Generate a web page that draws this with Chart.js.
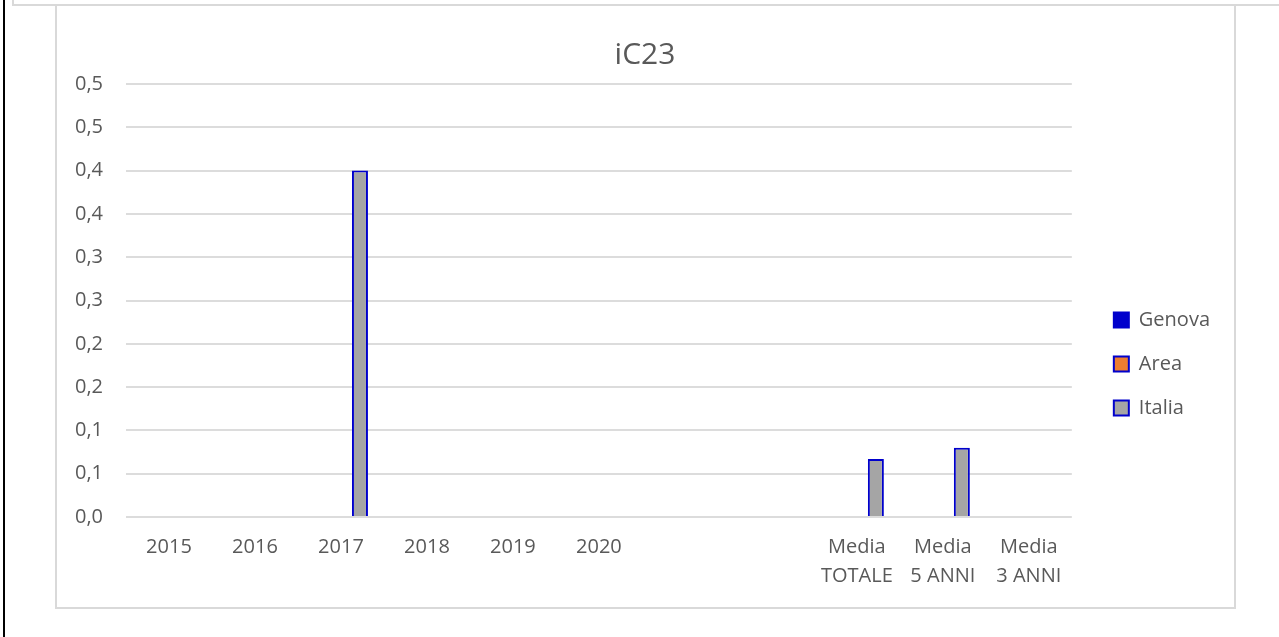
<!DOCTYPE html>
<html>
<head>
<meta charset="utf-8">
<script src="https://cdn.jsdelivr.net/npm/chart.js@4/dist/chart.umd.min.js"></script>
<style>
  html, body { margin: 0; padding: 0; background: #fff; }
  body { width: 1279px; height: 637px; position: relative; overflow: hidden; }
  .edge { position: absolute; left: 3px; top: 0; width: 2px; height: 637px; background: #000; }
  .prev { position: absolute; left: 12px; top: -20px; width: 1300px; height: 22px; border: 2px solid #d9d9d9; }
  .frame { position: absolute; left: 55px; top: 4px; width: 1181px; height: 605px; box-sizing: border-box; border: 2px solid #d9d9d9; }
  #wrap { position: absolute; left: 0; top: 0; width: 1279px; height: 637px; }
</style>
</head>
<body>
<div class="edge"></div>
<div class="prev"></div>
<div class="frame"></div>
<div id="wrap"><canvas id="chart"></canvas></div>
<script>
const CATEGORIES = ["2015", "2016", "2017", "2018", "2019", "2020", "", "", ["Media", "TOTALE"], ["Media", "5 ANNI"], ["Media", "3 ANNI"]];
const GENOVA = [null, null, null, null, null, null, null, null, null, null, null];
const AREA = [null, null, null, null, null, null, null, null, null, null, null];
const ITALIA = [null, null, 0.4, null, null, null, null, null, 0.067, 0.08, null];
const Y_TICK_LABELS = ["0,0", "0,1", "0,1", "0,2", "0,2", "0,3", "0,3", "0,4", "0,4", "0,5", "0,5"];

const TEXT = "#595959";
const FONT = "'Open Sans', sans-serif";

const ctx = document.getElementById("chart").getContext("2d");

new Chart(ctx, {
    type: "bar",
    data: {
        labels: CATEGORIES,
        datasets: [
            { label: "Genova", data: GENOVA, backgroundColor: "#0000cc", borderColor: "#0000cc", borderWidth: 2 },
            { label: "Area", data: AREA, backgroundColor: "#ed7d31", borderColor: "#0000cc", borderWidth: 2 },
            { label: "Italia", data: ITALIA, backgroundColor: "#a5a5a5", borderColor: "#0000cc", borderWidth: 2 }
        ]
    },
    options: {
        responsive: true,
        maintainAspectRatio: false,
        animation: false,
        categoryPercentage: 0.663,
        barPercentage: 0.842,
        // left/right padding keep the title centred on the frame
        layout: { padding: { left: 70, right: 59, top: 10, bottom: -81 } },
        scales: {
            y: {
                min: 0,
                max: 0.5,
                afterFit: s => { s.width = 56; },
                ticks: {
                    stepSize: 0.05,
                    padding: 23,
                    color: TEXT,
                    font: { family: FONT, size: 20 },
                    callback: (v, i) => Y_TICK_LABELS[i]
                },
                grid: { color: "#dcdcdc", lineWidth: 2, drawTicks: false },
                border: { display: false }
            },
            y2: {
                axis: "y",
                position: "right",
                afterFit: s => { s.width = 18; },
                ticks: { display: false },
                grid: { display: false },
                border: { display: false }
            },
            x: {
                afterFit: s => { s.height = 201; },
                ticks: {
                    padding: 16,
                    color: TEXT,
                    maxRotation: 0,
                    autoSkip: false,
                    font: { family: FONT, size: 20, lineHeight: 1.45 }
                },
                grid: { display: false, drawTicks: false },
                border: { display: false }
            }
        },
        plugins: {
            title: {
                display: true,
                text: "iC23",
                color: TEXT,
                font: { family: FONT, size: 30, weight: "normal" },
                padding: { top: 27, bottom: 11 }
            },
            legend: {
                position: "right",
                labels: {
                    boxWidth: 15,
                    boxHeight: 15,
                    padding: 24,
                    color: TEXT,
                    font: { family: FONT, size: 20 }
                }
            },
            tooltip: { enabled: false }
        }
    }
});
</script>
</body>
</html>
